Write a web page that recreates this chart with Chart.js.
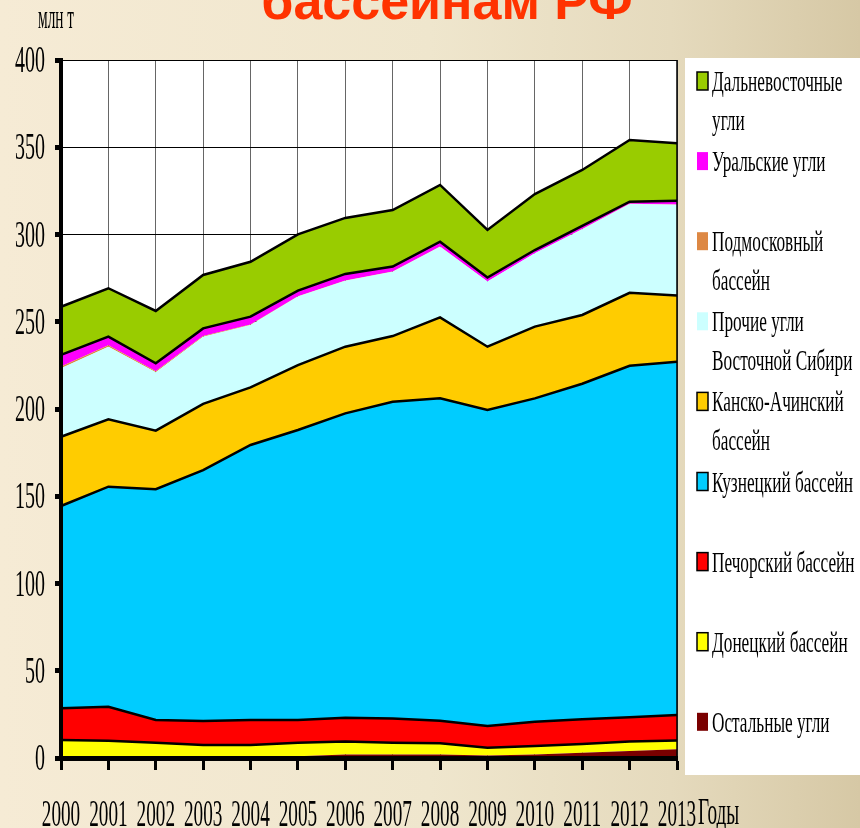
<!DOCTYPE html>
<html>
<head>
<meta charset="utf-8">
<script src="https://cdn.jsdelivr.net/npm/chart.js@4"></script>
<style>
    html, body { margin: 0; padding: 0; }
    body {
        width: 860px;
        height: 828px;
        overflow: hidden;
        background: linear-gradient(90deg, #f6ebd5 0%, #efe6cd 50%, #e5dabd 78%, #d6c8a5 100%);
    }
    #chart1 { display: block; }
</style>
</head>
<body>
<canvas id="chart1" width="860" height="828"></canvas>
<script>
const chart1 = document.querySelector('#chart1');

// годы
const years = ['2000', '2001', '2002', '2003', '2004', '2005', '2006', '2007', '2008', '2009', '2010', '2011', '2012', '2013'];

// добыча по бассейнам, млн т (снизу вверх, как в стопке)
const ostalnye = [0.3, 0.3, 0.3, 0.5, 0.5, 1, 2, 2, 2, 1.5, 2, 3, 4, 5];
const donetsk = [10.0, 9.6, 8.5, 6.9, 6.9, 7.8, 7.4, 6.8, 6.4, 4.4, 4.9, 5.0, 5.4, 5.0];
const pechora = [18.2, 19.5, 13.0, 13.8, 14.4, 13.0, 13.7, 13.9, 13.0, 12.4, 13.9, 14.2, 13.9, 14.7];
const kuzbass = [115.9, 126.1, 132.2, 143.8, 157.6, 166.2, 174.4, 181.5, 184.7, 181.1, 185.3, 192.3, 201.5, 202.4];
const kansk = [39.7, 38.6, 33.6, 37.9, 33.0, 37.2, 38.2, 37.6, 46.4, 36.3, 41.1, 39.4, 41.8, 37.9];
const prochie = [39.2, 41.6, 33.4, 38.5, 35.7, 39.2, 37.8, 36.9, 40.5, 37.3, 42.0, 49.1, 50.9, 52.1];
const podmosk = [1.0, 0.8, 0.6, 0.5, 0.3, 0.2, 0.1, 0.1, 0.1, 0.1, 0.1, 0.1, 0.1, 0.1];
const ural = [6.7, 5.0, 4.6, 4.3, 4.5, 3.2, 3.8, 2.8, 2.8, 2.2, 1.8, 1.8, 1.2, 2.2];
const dalniy = [27.6, 27.7, 30.0, 30.6, 31.5, 32.3, 32.1, 32.4, 32.5, 27.3, 32.1, 32.1, 35.4, 32.9];

// подписи оси Y
const yTicks = [0, 50, 100, 150, 200, 250, 300, 350, 400];

const serif = '"Liberation Serif", "Times New Roman", serif';

// узкий шрифт как на слайде: сжимаем текст по горизонтали
const drawNarrow = (ctx, text, x, y, size, sx, align) => {
    ctx.save();
    ctx.font = size + 'px ' + serif;
    const w = ctx.measureText(text).width * sx;
    let left = x;
    if (align === 'right') left = x - w;
    if (align === 'center') left = x - w / 2;
    ctx.translate(left, y);
    ctx.scale(sx, 1);
    ctx.textAlign = 'left';
    ctx.textBaseline = 'alphabetic';
    ctx.fillStyle = '#000';
    ctx.fillText(text, 0, 0);
    ctx.restore();
};

const area = (label, data, color, border, legendBox) => ({
    label: label,
    data: data,
    backgroundColor: color,
    borderColor: border ? '#000' : color,
    borderWidth: border ? 2.5 : 0,
    fill: '-1',
    pointRadius: 0,
    tension: 0,
    legendBox: legendBox
});

const datasets = [
    area('Остальные угли', ostalnye, '#7a0000', false, false),
    area('Донецкий бассейн', donetsk, '#ffff00', true, true),
    area('Печорский бассейн', pechora, '#ff0000', true, true),
    area('Кузнецкий бассейн', kuzbass, '#00ccff', true, true),
    area('Канско-Ачинский\nбассейн', kansk, '#ffcc00', true, true),
    area('Прочие угли\nВосточной Сибири', prochie, '#ccffff', false, false),
    area('Подмосковный\nбассейн', podmosk, '#dd8844', false, false),
    area('Уральские угли', ural, '#ff00ff', true, false),
    area('Дальневосточные\nугли', dalniy, '#99cc00', true, true)
];
datasets[0].fill = 'origin';

const slidePlugin = {
    id: 'slide',
    beforeDraw(chart) {
        const {ctx, chartArea: a} = chart;
        ctx.save();
        ctx.fillStyle = '#fff';
        ctx.fillRect(a.left, a.top, a.right - a.left, a.bottom - a.top);
        // белая подложка легенды
        ctx.fillRect(685, 58, 175, 717);
        ctx.restore();
    },
    afterDatasetsDraw(chart) {
        const {ctx, chartArea: a} = chart;
        ctx.save();
        ctx.strokeStyle = '#000';
        ctx.lineWidth = 1.5;
        ctx.beginPath();
        ctx.moveTo(a.right, a.top);
        ctx.lineTo(a.right, a.bottom);
        ctx.stroke();
        ctx.restore();
    },
    afterDraw(chart) {
        const {ctx} = chart;
        const xs = chart.scales.x;
        const ys = chart.scales.y;

        // заголовок (обрезан сверху)
        ctx.save();
        ctx.font = 'bold 52px "Liberation Sans", Arial, sans-serif';
        ctx.fillStyle = '#ff3300';
        ctx.textAlign = 'center';
        ctx.textBaseline = 'alphabetic';
        ctx.fillText('бассейнам РФ', 447, 19);
        ctx.restore();

        drawNarrow(ctx, 'млн т', 38, 28, 34, 0.45, 'left');

        yTicks.forEach((v) => {
            drawNarrow(ctx, String(v), 45, ys.getPixelForValue(v) + 12, 37, 0.54, 'right');
        });
        years.forEach((yr, i) => {
            drawNarrow(ctx, yr, xs.getPixelForValue(i), 826, 37, 0.52, 'center');
        });
        drawNarrow(ctx, 'Годы', 698, 824, 37, 0.52, 'left');

        // легенда сверху вниз
        const items = chart.data.datasets.slice().reverse();
        items.forEach((ds, i) => {
            const y = 82 + i * 80.1;
            ctx.save();
            ctx.fillStyle = ds.backgroundColor;
            ctx.fillRect(697, y - 10, 11, 18);
            if (ds.legendBox) {
                ctx.strokeStyle = '#000';
                ctx.lineWidth = 1.5;
                ctx.strokeRect(697, y - 10, 11, 18);
            }
            ctx.restore();
            ds.label.split('\n').forEach((line, j) => {
                drawNarrow(ctx, line, 712, y + 9 + j * 39, 30, 0.575, 'left');
            });
        });
    }
};

const config = {
    type: 'line',
    data: {
        labels: years,
        datasets: datasets
    },
    options: {
        responsive: false,
        animation: false,
        layout: {
            padding: {left: 55, right: 183, top: 60, bottom: 58}
        },
        plugins: {
            legend: {display: false},
            tooltip: {enabled: false}
        },
        scales: {
            x: {
                offset: false,
                ticks: {display: false},
                grid: {
                    color: '#666',
                    lineWidth: 1,
                    tickLength: 12,
                    tickWidth: 3,
                    tickColor: '#000'
                },
                border: {color: '#000', width: 5, z: 1}
            },
            y: {
                stacked: true,
                min: 0,
                max: 400,
                ticks: {display: false, stepSize: 50},
                grid: {
                    color: '#000',
                    lineWidth: 1,
                    tickLength: 6,
                    tickWidth: 5,
                    tickColor: '#000'
                },
                border: {color: '#000', width: 4, z: 1}
            }
        }
    },
    plugins: [slidePlugin]
};

new Chart(chart1, config);
</script>
</body>
</html>
